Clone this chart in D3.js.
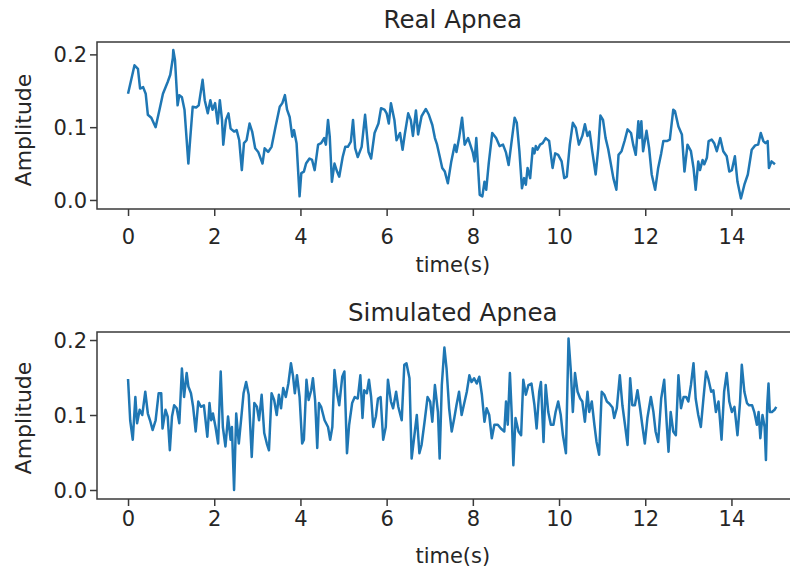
<!DOCTYPE html>
<html>
<head>
<meta charset="utf-8">
<script src="https://cdn.jsdelivr.net/npm/d3@7"></script>
<style>
  html, body { margin: 0; padding: 0; background: #fff; }
  svg { display: block; }
  text { font-family: "DejaVu Sans", sans-serif; fill: #262626; }
</style>
</head>
<body>
<svg id="chart" width="800" height="569"></svg>
<script>
// ---- Data ----
const realTime = [0.00,0.15,0.23,0.28,0.35,0.41,0.46,0.54,0.64,0.73,0.81,0.92,0.98,1.04,1.05,1.09,1.15,1.19,1.25,1.31,1.40,1.44,1.50,1.58,1.64,1.73,1.78,1.85,1.91,1.96,2.02,2.08,2.13,2.18,2.21,2.27,2.33,2.38,2.46,2.52,2.58,2.64,2.69,2.75,2.82,2.88,2.95,3.02,3.12,3.17,3.25,3.33,3.42,3.52,3.58,3.64,3.69,3.75,3.81,3.85,3.91,3.98,4.02,4.08,4.13,4.21,4.27,4.33,4.41,4.48,4.55,4.59,4.64,4.68,4.73,4.79,4.85,4.90,4.98,5.04,5.10,5.17,5.22,5.27,5.33,5.42,5.50,5.58,5.64,5.72,5.81,5.87,5.95,6.00,6.05,6.10,6.18,6.23,6.31,6.37,6.42,6.50,6.56,6.61,6.68,6.73,6.81,6.91,6.98,7.06,7.12,7.17,7.23,7.29,7.35,7.42,7.50,7.58,7.62,7.68,7.75,7.81,7.89,7.94,8.00,8.04,8.08,8.16,8.22,8.27,8.31,8.37,8.45,8.54,8.62,8.70,8.77,8.83,8.89,8.97,9.02,9.08,9.14,9.19,9.23,9.27,9.33,9.39,9.43,9.46,9.50,9.56,9.62,9.69,9.77,9.85,9.91,9.98,10.06,10.12,10.18,10.25,10.32,10.39,10.46,10.54,10.60,10.66,10.71,10.77,10.85,10.91,10.96,11.02,11.08,11.14,11.20,11.26,11.33,11.38,11.45,11.52,11.59,11.67,11.72,11.78,11.84,11.87,11.91,11.95,12.03,12.09,12.15,12.23,12.30,12.37,12.42,12.50,12.57,12.65,12.69,12.77,12.85,12.91,12.98,13.06,13.12,13.17,13.23,13.27,13.33,13.37,13.43,13.47,13.54,13.60,13.66,13.74,13.81,13.89,13.95,14.01,14.08,14.14,14.22,14.30,14.38,14.47,14.55,14.62,14.68,14.74,14.79,14.84,14.87,14.93,15.01];
const realAmp = [0.146,0.185,0.180,0.153,0.155,0.146,0.117,0.113,0.100,0.124,0.146,0.162,0.172,0.195,0.206,0.192,0.130,0.144,0.141,0.124,0.050,0.082,0.128,0.127,0.130,0.165,0.137,0.119,0.137,0.124,0.133,0.105,0.137,0.110,0.076,0.110,0.119,0.098,0.094,0.096,0.082,0.041,0.078,0.082,0.105,0.094,0.071,0.066,0.050,0.071,0.066,0.073,0.100,0.128,0.133,0.144,0.124,0.114,0.087,0.096,0.078,0.005,0.037,0.039,0.050,0.057,0.055,0.041,0.076,0.078,0.085,0.076,0.110,0.087,0.025,0.050,0.039,0.032,0.059,0.073,0.073,0.080,0.110,0.071,0.059,0.073,0.117,0.066,0.057,0.092,0.105,0.126,0.124,0.119,0.105,0.133,0.110,0.082,0.092,0.069,0.090,0.119,0.110,0.088,0.123,0.090,0.115,0.125,0.117,0.103,0.085,0.076,0.060,0.044,0.039,0.023,0.053,0.076,0.066,0.085,0.113,0.076,0.085,0.076,0.065,0.053,0.085,0.007,0.005,0.025,0.014,0.051,0.092,0.085,0.074,0.076,0.065,0.048,0.076,0.113,0.106,0.067,0.016,0.030,0.021,0.044,0.030,0.071,0.064,0.074,0.069,0.076,0.078,0.085,0.081,0.044,0.064,0.062,0.053,0.030,0.032,0.076,0.106,0.099,0.076,0.088,0.104,0.088,0.094,0.067,0.035,0.071,0.116,0.110,0.085,0.070,0.050,0.030,0.014,0.062,0.067,0.081,0.097,0.092,0.076,0.062,0.108,0.085,0.108,0.067,0.095,0.071,0.035,0.014,0.044,0.064,0.081,0.081,0.083,0.124,0.122,0.101,0.090,0.039,0.076,0.067,0.044,0.014,0.053,0.041,0.055,0.049,0.058,0.081,0.083,0.078,0.067,0.085,0.067,0.060,0.039,0.041,0.060,0.025,0.002,0.021,0.035,0.069,0.075,0.076,0.092,0.081,0.078,0.081,0.044,0.053,0.049];

const simTime = [0.00,0.05,0.11,0.17,0.21,0.27,0.33,0.40,0.46,0.51,0.57,0.64,0.71,0.77,0.80,0.87,0.92,0.97,1.02,1.07,1.13,1.19,1.25,1.30,1.36,1.40,1.46,1.51,1.57,1.63,1.69,1.76,1.84,1.89,1.93,1.97,2.03,2.09,2.15,2.20,2.26,2.32,2.38,2.41,2.46,2.51,2.57,2.63,2.68,2.74,2.80,2.87,2.93,2.99,3.04,3.10,3.16,3.22,3.27,3.33,3.39,3.45,3.50,3.55,3.60,3.66,3.72,3.78,3.83,3.87,3.92,3.98,4.04,4.08,4.14,4.19,4.25,4.29,4.34,4.39,4.43,4.48,4.56,4.64,4.69,4.74,4.79,4.85,4.90,4.97,5.02,5.08,5.13,5.20,5.26,5.33,5.39,5.44,5.48,5.54,5.59,5.64,5.69,5.75,5.80,5.86,5.92,5.98,6.03,6.10,6.15,6.22,6.27,6.35,6.41,6.46,6.53,6.58,6.64,6.70,6.76,6.81,6.88,6.95,7.01,7.06,7.12,7.19,7.23,7.28,7.34,7.39,7.45,7.51,7.57,7.62,7.68,7.74,7.79,7.86,7.92,7.97,8.03,8.09,8.15,8.21,8.27,8.32,8.38,8.44,8.50,8.58,8.65,8.73,8.77,8.81,8.86,8.90,8.94,8.99,9.06,9.12,9.17,9.23,9.29,9.36,9.43,9.48,9.54,9.58,9.64,9.69,9.75,9.81,9.87,9.92,9.98,10.04,10.09,10.16,10.22,10.27,10.32,10.37,10.43,10.49,10.54,10.60,10.66,10.70,10.76,10.82,10.87,10.93,10.99,11.05,11.11,11.17,11.24,11.28,11.34,11.41,11.47,11.53,11.59,11.65,11.70,11.76,11.82,11.88,11.93,11.99,12.05,12.13,12.19,12.24,12.30,12.37,12.44,12.50,12.54,12.59,12.65,12.71,12.77,12.83,12.89,12.95,13.00,13.06,13.12,13.17,13.23,13.29,13.35,13.41,13.46,13.53,13.58,13.64,13.70,13.77,13.83,13.89,13.95,14.01,14.07,14.14,14.20,14.24,14.30,14.36,14.41,14.48,14.53,14.59,14.63,14.67,14.72,14.77,14.80,14.83,14.86,14.89,14.94,15.00,15.04];
const simAmp = [0.148,0.093,0.067,0.124,0.089,0.107,0.100,0.131,0.102,0.093,0.080,0.093,0.129,0.129,0.082,0.107,0.098,0.053,0.098,0.113,0.109,0.089,0.162,0.124,0.156,0.138,0.129,0.111,0.078,0.118,0.111,0.113,0.071,0.116,0.093,0.102,0.084,0.062,0.158,0.084,0.058,0.098,0.067,0.084,0.000,0.102,0.062,0.098,0.129,0.144,0.127,0.044,0.116,0.111,0.093,0.127,0.076,0.062,0.053,0.129,0.120,0.100,0.127,0.109,0.136,0.124,0.142,0.169,0.151,0.129,0.153,0.124,0.062,0.067,0.147,0.120,0.133,0.149,0.120,0.056,0.116,0.111,0.093,0.084,0.067,0.084,0.160,0.129,0.113,0.151,0.158,0.049,0.087,0.116,0.124,0.122,0.153,0.096,0.133,0.129,0.147,0.124,0.084,0.098,0.122,0.124,0.067,0.084,0.147,0.118,0.109,0.131,0.111,0.093,0.167,0.169,0.149,0.042,0.071,0.100,0.049,0.060,0.091,0.124,0.118,0.091,0.140,0.104,0.042,0.140,0.190,0.162,0.109,0.078,0.096,0.113,0.131,0.100,0.113,0.131,0.153,0.144,0.149,0.142,0.151,0.127,0.091,0.109,0.100,0.069,0.087,0.087,0.082,0.078,0.118,0.087,0.156,0.104,0.033,0.096,0.078,0.073,0.147,0.127,0.140,0.142,0.113,0.082,0.131,0.144,0.064,0.140,0.104,0.087,0.087,0.104,0.118,0.100,0.073,0.049,0.202,0.162,0.104,0.156,0.131,0.122,0.118,0.091,0.131,0.104,0.118,0.087,0.064,0.047,0.131,0.127,0.118,0.115,0.110,0.096,0.109,0.153,0.113,0.087,0.060,0.149,0.113,0.113,0.133,0.109,0.087,0.062,0.096,0.124,0.104,0.078,0.064,0.122,0.147,0.087,0.051,0.104,0.078,0.073,0.153,0.109,0.124,0.124,0.118,0.140,0.169,0.122,0.100,0.084,0.122,0.158,0.149,0.131,0.133,0.104,0.118,0.067,0.131,0.156,0.118,0.104,0.111,0.073,0.118,0.167,0.131,0.116,0.113,0.113,0.104,0.087,0.104,0.069,0.100,0.084,0.040,0.113,0.142,0.104,0.104,0.107,0.111];

const xTicks = [0, 2, 4, 6, 8, 10, 12, 14];
const yTicks = [0.0, 0.1, 0.2];
const titles = ["Real Apnea", "Simulated Apnea"];
const xLabel = "time(s)";
const yLabel = "Amplitude";

// ---- Layout ----
const svg = d3.select("#chart");
const lineColor = "#1f77b4";
const visibleRight = 790; // the reference picture is cut off here

svg.append("defs").append("clipPath").attr("id", "cut")
  .append("rect").attr("x", 0).attr("y", 0).attr("width", visibleRight).attr("height", 569);

const panels = [
  { time: realTime, amp: realAmp, title: titles[0],
    frame: { left: 97, right: 808.6, top: 42, bottom: 209 },
    xDom: [-0.72, 15.79], yDom: [-0.0124, 0.217],
    titleY: 28, tickLabelY: 244, xLabelY: 272, yLabelCY: 130 },
  { time: simTime, amp: simAmp, title: titles[1],
    frame: { left: 97, right: 808.6, top: 332, bottom: 499 },
    xDom: [-0.72, 15.79], yDom: [-0.012, 0.2107],
    titleY: 321, tickLabelY: 526, xLabelY: 563, yLabelCY: 418 }
];

panels.forEach(p => {
  const f = p.frame;
  const x = d3.scaleLinear().domain(p.xDom).range([f.left, f.right]);
  const y = d3.scaleLinear().domain(p.yDom).range([f.bottom, f.top]);
  const g = svg.append("g").attr("clip-path", "url(#cut)");

  // data line
  const pts = p.time.map((t, i) => [t, p.amp[i]]);
  g.append("path")
    .datum(pts)
    .attr("fill", "none")
    .attr("stroke", lineColor)
    .attr("stroke-width", 2.5)
    .attr("stroke-linejoin", "round")
    .attr("d", d3.line().x(d => x(d[0])).y(d => y(d[1])));

  // frame
  g.append("rect")
    .attr("x", f.left).attr("y", f.top)
    .attr("width", f.right - f.left).attr("height", f.bottom - f.top)
    .attr("fill", "none").attr("stroke", "#3a3a3a").attr("stroke-width", 1.5);

  // axes
  const xAxis = d3.axisBottom(x).tickValues(xTicks).tickSize(7).tickPadding(6).tickFormat(d3.format("d"));
  const yAxis = d3.axisLeft(y).tickValues(yTicks).tickSize(7).tickPadding(3).tickFormat(d3.format(".1f"));

  const gx = g.append("g").attr("transform", `translate(0,${f.bottom})`).call(xAxis);
  const gy = g.append("g").attr("transform", `translate(${f.left},0)`).call(yAxis);
  [gx, gy].forEach(a => {
    a.select(".domain").remove();
    a.selectAll(".tick line").attr("stroke", "#3a3a3a").attr("stroke-width", 1.5);
    a.selectAll(".tick text").attr("font-size", 21).attr("font-family", "DejaVu Sans").attr("fill", "#262626");
  });
  gx.selectAll(".tick text").attr("dy", null).attr("y", p.tickLabelY - f.bottom);
  gy.selectAll(".tick text").attr("dy", "0.36em");

  // title
  svg.append("text").attr("x", (f.left + f.right) / 2).attr("y", p.titleY)
    .attr("text-anchor", "middle").attr("font-size", 24.5).text(p.title);
  // x label
  svg.append("text").attr("x", (f.left + f.right) / 2).attr("y", p.xLabelY)
    .attr("text-anchor", "middle").attr("font-size", 21).text(xLabel);
  // y label
  svg.append("text")
    .attr("transform", `translate(31,${p.yLabelCY}) rotate(-90)`)
    .attr("text-anchor", "middle").attr("font-size", 22).text(yLabel);
});
</script>
</body>
</html>
